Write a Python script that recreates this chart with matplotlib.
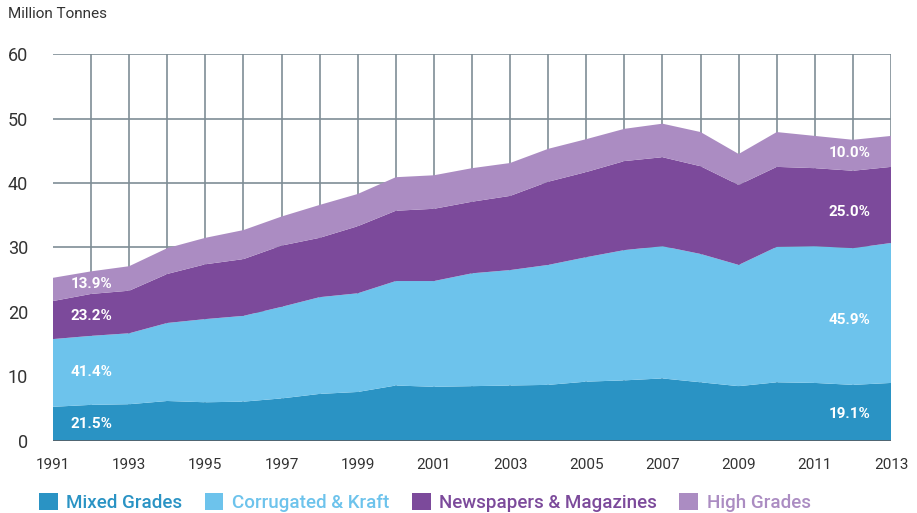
import matplotlib
matplotlib.use("Agg")
import matplotlib.pyplot as plt
from matplotlib.patches import Patch

plt.rcParams["font.family"] = ["Roboto", "DejaVu Sans"]

# ---------------------------------------------------------------------------
# Data (million tonnes)
# ---------------------------------------------------------------------------
years = list(range(1991, 2014))
mixed_grades = [5.3, 5.6, 5.7, 6.2, 6.0, 6.1, 6.6, 7.3, 7.6, 8.6, 8.4, 8.5,
                8.6, 8.7, 9.2, 9.4, 9.7, 9.1, 8.5, 9.1, 9.0, 8.7, 9.0]
corrugated_kraft = [10.5, 10.7, 11.0, 12.1, 12.9, 13.3, 14.2, 15.0, 15.3, 16.2, 16.4, 17.5,
                    17.9, 18.6, 19.3, 20.2, 20.5, 19.9, 18.8, 21.0, 21.2, 21.2, 21.7]
newspapers_magazines = [5.9, 6.5, 6.6, 7.6, 8.5, 8.8, 9.5, 9.2, 10.4, 10.9, 11.2, 11.1,
                        11.5, 12.9, 13.2, 13.8, 13.8, 13.6, 12.4, 12.4, 12.1, 12.0, 11.8]
high_grades = [3.6, 3.5, 3.8, 4.0, 4.1, 4.5, 4.5, 5.1, 5.0, 5.2, 5.2, 5.2,
               5.1, 5.1, 5.1, 5.0, 5.2, 5.3, 4.8, 5.4, 5.0, 4.8, 4.8]

series_names = ["Mixed Grades", "Corrugated & Kraft", "Newspapers & Magazines", "High Grades"]
colors = ["#2a93c4", "#6dc3ec", "#7c4a9b", "#ab8cc2"]

share_first = ["21.5%", "41.4%", "23.2%", "13.9%"]
share_last = ["19.1%", "45.9%", "25.0%", "10.0%"]

# ---------------------------------------------------------------------------
# Figure
# ---------------------------------------------------------------------------
fig = plt.figure(figsize=(9.17, 5.13), dpi=100)
ax = fig.add_axes([0.0578, 0.1404, 0.9139, 0.7543])

series = [mixed_grades, corrugated_kraft, newspapers_magazines, high_grades]
ax.stackplot(years, *series, colors=colors, linewidth=0, zorder=2)

grid_color = "#7f8d96"
for yr in years[1:]:
    ax.axvline(yr, color=grid_color, lw=1.2, zorder=1)
for yv in range(10, 61, 10):
    ax.axhline(yv, color=grid_color, lw=1.2, zorder=1)
ax.axhline(0, color="#55616a", lw=2, zorder=3)

ax.set_xlim(1991, 2013)
ax.set_ylim(0, 60)
ax.set_xticks(years)
ax.set_xticklabels([str(y) if (y - 1991) % 2 == 0 else "" for y in years],
                   fontsize=11, color="#333333")
ax.set_yticks(range(0, 61, 10))
ax.tick_params(axis="both", length=0)
ax.tick_params(axis="x", pad=12)
ax.tick_params(axis="y", labelsize=13, labelcolor="#333333", pad=18)
for s in ax.spines.values():
    s.set_visible(False)

# share labels inside the bands
first_pos = [2.6, 10.7, 19.4, 24.3]
last_pos = [4.2, 18.8, 35.5, 44.7]
for i in range(4):
    ax.text(1992, first_pos[i], share_first[i], color="white", fontsize=11,
            fontweight="bold", ha="center", va="center", zorder=4)
    ax.text(2011.9, last_pos[i], share_last[i], color="white", fontsize=11,
            fontweight="bold", ha="center", va="center", zorder=4)

fig.text(0.009, 0.972, "Million Tonnes", fontsize=11, color="#333333", va="center")

handles = [Patch(facecolor=c, edgecolor="none") for c in colors]
leg = fig.legend(handles, series_names, loc="center left", bbox_to_anchor=(0.024, 0.02),
                 ncol=4, frameon=False, fontsize=13.5, handlelength=1.0, handleheight=1.0,
                 handletextpad=0.45, columnspacing=1.2)
for txt, c in zip(leg.get_texts(), colors):
    txt.set_color(c)
    txt.set_fontweight("medium")

fig.savefig("out.png", dpi=100)
